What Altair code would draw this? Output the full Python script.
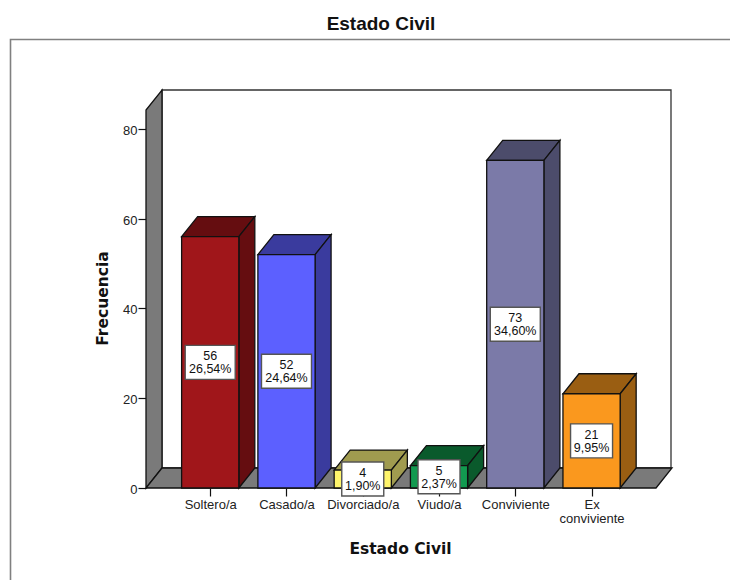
import json
import altair as alt
import pandas as pd

categories = ["Soltero/a", "Casado/a", "Divorciado/a", "Viudo/a", "Conviviente", "Ex conviviente"]
counts = [56, 52, 4, 5, 73, 21]
percents = ["26,54%", "24,64%", "1,90%", "2,37%", "34,60%", "9,95%"]
front_colors = ["#A0161A", "#5C60FF", "#FFF56B", "#129A50", "#7B7AA8", "#FA981E"]
depth_colors = ["#650D10", "#3A3B9E", "#A09B4F", "#0A5A2C", "#4C4C6B", "#9A5E12"]
chart_title = "Estado Civil"

# Scale geometry
PX_X = 76.27          # px per category
PX_Y = 4.4875         # px per count
X_MIN, X_MAX = -0.842, 6.0416
Y_MAX = 88.69
DX, DY = 16 / PX_X, 20 / PX_Y
HALF = 0.375
FLOOR_RIGHT = 5.845
WALL_TOP = Y_MAX - DY
FONT = "Liberation Sans"

x_s = alt.Scale(domain=[X_MIN, X_MAX], nice=False, zero=False)
y_s = alt.Scale(domain=[0, Y_MAX], nice=False, zero=False)

front, side, top, boxes = [], [], [], []
for i, (c, v, p) in enumerate(zip(categories, counts, percents)):
    l, r = i - HALF, i + HALF
    front.append(dict(c=c, x=l, x2=r, y=0, y2=v))
    side.append(dict(c=c, x=r, y=0, y2=v))
    side.append(dict(c=c, x=r + DX, y=DY, y2=v + DY))
    top.append(dict(c=c, y=v, x=l, x2=r))
    top.append(dict(c=c, y=v + DY, x=l + DX, x2=r + DX))
    hw = (25 if len(p) == 6 else 21) / PX_X
    mid = v / 2
    boxes.append(dict(c=c, p=p, n=str(v), x=i - hw, x2=i + hw, y=mid - 17 / PX_Y, y2=mid + 17 / PX_Y, xc=i, mid=mid))

tick_labels = [["Ex", "conviviente"] if c == "Ex conviviente" else c for c in categories]
x_axis = alt.Axis(
    values=list(range(6)), labelExpr=json.dumps(tick_labels).replace('"', "'") + "[datum.value]",
    title="Estado Civil", titleFont="DejaVu Sans", titleFontSize=15.5, titleFontWeight="bold", titleColor="#111111",
    titleX=254, titleY=53, titleAnchor="middle", titleAlign="center",
    labelFont=FONT, labelFontSize=13, labelColor="#222222", labelPadding=2, labelLineHeight=14,
    labelOverlap=False, labelFlush=False,
    tickSize=8, tickColor="#111111", tickWidth=1.2, domain=False, grid=False,
)
y_axis = alt.Axis(
    values=[0, 20, 40, 60, 80], title="Frecuencia", titleFont="DejaVu Sans", titleFontSize=15.5,
    titleFontWeight="bold", titleColor="#111111", titleX=-36, titleY=208, titleAnchor="middle",
    labelFont=FONT, labelFontSize=13, labelColor="#222222", labelPadding=1, labelOffset=1.5,
    tickSize=8, tickColor="#111111", tickWidth=1.2, domain=False, grid=False,
)

color = alt.Color("c:N", scale=alt.Scale(domain=categories, range=front_colors), legend=None)
dcolor = alt.Color("c:N", scale=alt.Scale(domain=categories, range=depth_colors), legend=None)
X = alt.X("x:Q", scale=x_s, axis=x_axis)
Y = alt.Y("y:Q", scale=y_s, axis=y_axis)

FRAME = "#808080"
WALL = "#7A7A7A"
EDGE = "#111111"

one = pd.DataFrame({"a": [0]})
frame = alt.Chart(one).mark_rect(fillOpacity=0, stroke=FRAME, strokeWidth=1.6, clip=False).encode(
    x=alt.value(-135.5), x2=alt.value(640), y=alt.value(-50.5), y2=alt.value(560)
)
title_mark = alt.Chart(pd.DataFrame({"t": [chart_title]})).mark_text(
    font=FONT, fontSize=19, fontWeight="bold", color="#111111", align="center", baseline="middle", clip=False
).encode(x=alt.value(235), y=alt.value(-66), text="t:N")

back = alt.Chart(pd.DataFrame([dict(x=X_MIN + DX, x2=X_MAX, y=DY, y2=Y_MAX)])).mark_rect(
    fill="white", stroke="#333333", strokeWidth=1.3, clip=False
).encode(x=X, x2="x2:Q", y=Y, y2="y2:Q")

left_wall = alt.Chart(pd.DataFrame([
    dict(x=X_MIN, y=0, y2=WALL_TOP),
    dict(x=X_MIN + DX, y=DY, y2=Y_MAX),
])).mark_area(fill=WALL, stroke=EDGE, strokeWidth=1.3, clip=False).encode(x=X, y=Y, y2="y2:Q")

floor = alt.Chart(pd.DataFrame([
    dict(y=0, x=X_MIN, x2=FLOOR_RIGHT),
    dict(y=DY, x=X_MIN + DX, x2=FLOOR_RIGHT + DX),
])).mark_area(orient="horizontal", fill=WALL, stroke=EDGE, strokeWidth=1.3, clip=False).encode(x=X, x2="x2:Q", y=Y)

top_faces = alt.Chart(pd.DataFrame(top)).mark_area(orient="horizontal", stroke=EDGE, strokeWidth=1.3, opacity=1).encode(
    x=X, x2="x2:Q", y=Y, color=dcolor
)
side_faces = alt.Chart(pd.DataFrame(side)).mark_area(stroke=EDGE, strokeWidth=1.3, opacity=1).encode(
    x=X, y=Y, y2="y2:Q", color=dcolor
)
front_faces = alt.Chart(pd.DataFrame(front)).mark_rect(stroke=EDGE, strokeWidth=1.3, opacity=1).encode(
    x=X, x2="x2:Q", y=Y, y2="y2:Q", color=color
)

labels_df = pd.DataFrame(boxes)
label_boxes = alt.Chart(labels_df).mark_rect(fill="white", stroke="#555555", strokeWidth=1.4, clip=False).encode(
    x=X, x2="x2:Q", y=Y, y2="y2:Q"
)
XC = alt.X("xc:Q", scale=x_s, axis=x_axis)
YC = alt.Y("mid:Q", scale=y_s, axis=y_axis)
txt1 = alt.Chart(labels_df).mark_text(font=FONT, fontSize=12.5, color="#111111", dy=-6).encode(x=XC, y=YC, text="n:N")
txt2 = alt.Chart(labels_df).mark_text(font=FONT, fontSize=12.5, color="#111111", dy=7).encode(x=XC, y=YC, text="p:N")

chart = alt.layer(
    frame, title_mark, back, left_wall, floor, top_faces, side_faces, front_faces, label_boxes, txt1, txt2
).resolve_scale(color="independent").properties(
    width=525, height=398,
    padding={"left": 138, "top": 82, "right": 59, "bottom": 92},
    autosize=alt.AutoSizeParams(type="none", contains="content"),
    background="white",
).configure_view(stroke=None)

chart.save("out.html", embed_options={"renderer": "svg", "actions": False})
